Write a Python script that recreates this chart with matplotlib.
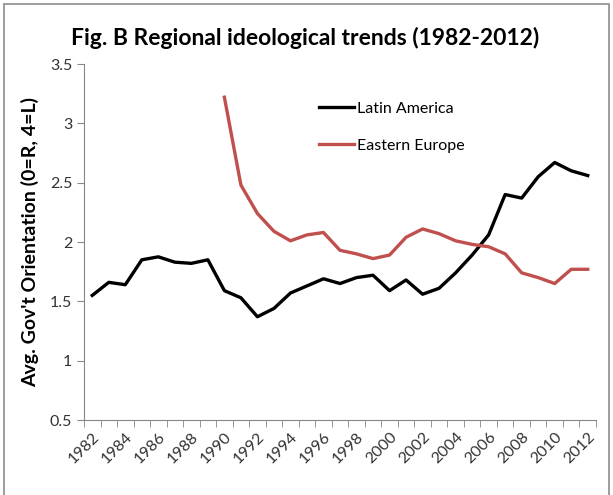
import numpy as np
import matplotlib
matplotlib.use("Agg")
import matplotlib.pyplot as plt
from matplotlib.patches import Rectangle

plt.rcParams["font.family"] = ["Lato", "DejaVu Sans"]

years = list(range(1982, 2013))
latin_america = [1.55, 1.66, 1.64, 1.85, 1.875, 1.83, 1.82, 1.85, 1.59, 1.53,
                 1.37, 1.44, 1.57, 1.63, 1.69, 1.65, 1.70, 1.72, 1.59, 1.68,
                 1.56, 1.61, 1.74, 1.89, 2.06, 2.40, 2.37, 2.55, 2.67, 2.60, 2.56]
eastern_europe = [None] * 8 + [3.22, 2.48, 2.24, 2.09, 2.01, 2.06, 2.08, 1.93,
                               1.90, 1.86, 1.89, 2.04, 2.11, 2.07, 2.01, 1.98,
                               1.96, 1.90, 1.74, 1.70, 1.65, 1.77, 1.77]
tick_years = list(range(1982, 2013, 2))

x = np.arange(len(years))
ee = np.array([np.nan if v is None else v for v in eastern_europe])

fig = plt.figure(figsize=(6.13, 4.95), dpi=100)
ax = fig.add_axes([84 / 613, 1 - 420 / 495, (596 - 84) / 613, (420 - 64) / 495])

ax.plot(x, latin_america, color="black", linewidth=2.4, label="Latin America")
ax.plot(x, ee, color="#C0504D", linewidth=2.4, label="Eastern Europe")

ax.set_xlim(-0.5, len(years) - 0.5)
ax.set_ylim(0.5, 3.5)
ax.set_yticks(np.arange(0.5, 3.51, 0.5))
ax.set_yticklabels([f"{v:g}" for v in np.arange(0.5, 3.51, 0.5)])

ax.set_xticks([years.index(y) for y in tick_years])
ax.set_xticklabels([str(y) for y in tick_years], rotation=45, ha="right",
                   va="top", rotation_mode="anchor")
ax.set_xticks(np.arange(-0.5, len(years)), minor=True)
ax.tick_params(axis="x", which="major", length=0, pad=7, labelsize=11.5, labelcolor="#333333")
ax.tick_params(axis="x", which="minor", length=5, color="#868686", direction="out")
ax.tick_params(axis="y", length=5, color="#868686", labelsize=11.5, labelcolor="#333333")

for side in ["top", "right"]:
    ax.spines[side].set_visible(False)
for side in ["left", "bottom"]:
    ax.spines[side].set_color("#868686")

ax.set_ylabel("Avg. Gov't Orientation (0=R, 4=L)", fontsize=14, fontweight="bold", labelpad=8)
fig.text(0.497, 1 - 38 / 495, "Fig. B Regional ideological trends (1982-2012)",
         ha="center", va="center", fontsize=16.5, fontweight="bold")

ax.legend(loc="upper left", bbox_to_anchor=(0.43, 0.935), frameon=False, fontsize=11.5,
          handlelength=2.2, handletextpad=0.2, labelspacing=1.45)

fig.patches.append(Rectangle((4 / 613, -0.05), (609 - 4) / 613, 1.05 - 4 / 495,
                             transform=fig.transFigure, fill=False,
                             edgecolor="#8c8c8c", linewidth=1.2))

fig.savefig("out.png", dpi=100)
